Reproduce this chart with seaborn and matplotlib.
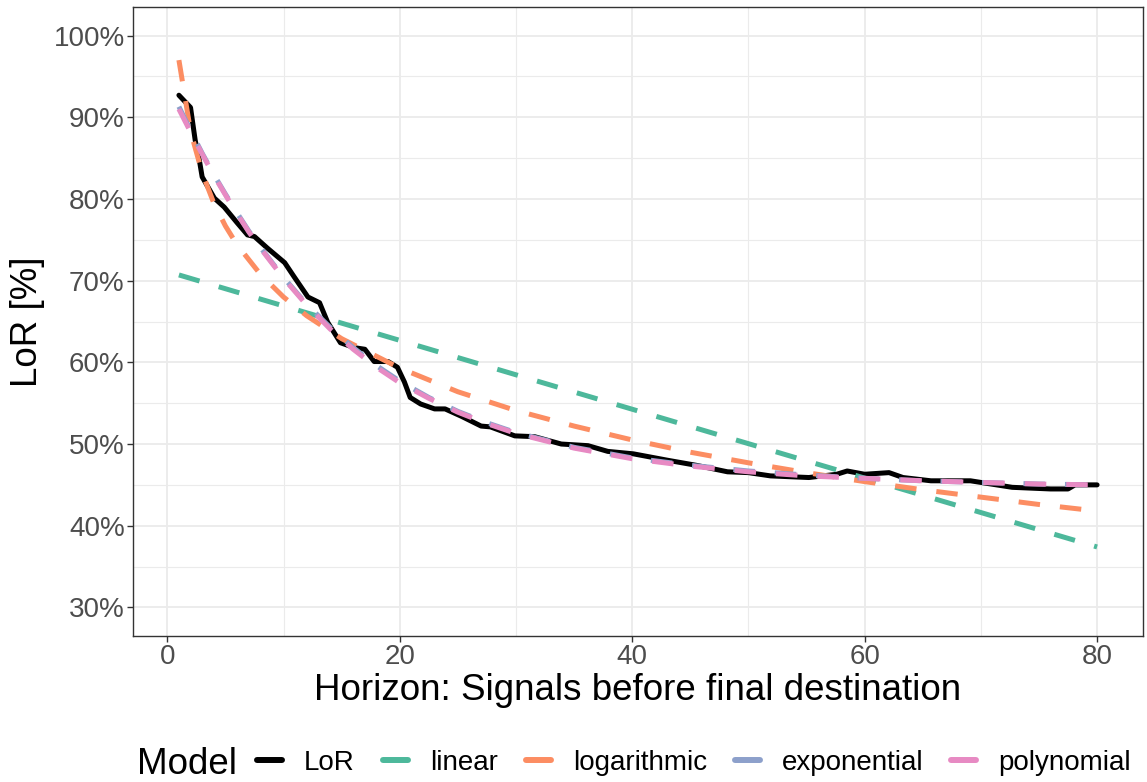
import pandas as pd
import matplotlib
matplotlib.use("Agg")
import matplotlib.pyplot as plt
from matplotlib.lines import Line2D
from matplotlib.ticker import MultipleLocator, FuncFormatter
import seaborn as sns

# Observed LoR curve (horizon, percent)
lor_x = [1.0, 2.0, 2.4, 2.8, 3.0, 4.05, 4.9, 6.0, 6.9, 7.5, 8.6, 10.1, 10.9, 12.1,
         13.1, 13.8, 14.9, 16.1, 17.0, 17.8, 19.0, 19.8, 20.4, 20.9, 21.8, 23.0,
         23.9, 25.3, 27.0, 27.8, 29.9, 31.6, 33.9, 36.2, 37.9, 40.1, 43.1, 45.5,
         48.2, 50.0, 51.9, 55.2, 57.6, 58.5, 60.0, 62.1, 63.3, 65.7, 69.1, 70.9,
         72.7, 76.0, 77.5, 78.1, 80.0]
lor_y = [92.7, 91.2, 87.2, 84.4, 82.7, 80.1, 79.0, 77.1, 75.6, 75.4, 74.0, 72.2, 70.5,
         68.0, 67.3, 64.9, 62.4, 61.8, 61.6, 60.1, 60.1, 59.4, 57.6, 55.7, 54.9,
         54.3, 54.3, 53.4, 52.2, 52.1, 51.0, 50.9, 50.0, 49.8, 49.1, 48.8, 48.0,
         47.4, 46.6, 46.5, 46.1, 45.9, 46.3, 46.7, 46.3, 46.5, 45.9, 45.5, 45.5,
         45.1, 44.7, 44.5, 44.5, 45.0, 45.0]

# Fitted models
linear_x = [1, 80]
linear_y = [70.7, 37.4]

log_x = [1, 2, 3, 4, 5, 6, 8, 10, 12, 15, 20, 25, 30, 35, 40, 45, 50, 55, 60, 65, 70, 75, 80]
log_y = [97.0, 88.3, 83.2, 79.5, 76.7, 74.4, 70.8, 68.0, 65.7, 62.9, 59.3, 56.4, 54.1,
         52.2, 50.5, 49.0, 47.7, 46.5, 45.4, 44.4, 43.5, 42.6, 41.8]

fit_x = [1, 2, 3, 4, 5, 6, 7, 8, 10, 12, 14, 16, 18, 20, 22.5, 25, 27.5, 30, 35, 40,
         45, 50, 55, 60, 65, 70, 75, 80]
exp_y = [91.3, 88.4, 85.6, 83.0, 80.6, 78.3, 76.1, 74.1, 70.4, 67.1, 64.3, 61.8, 59.6,
         57.7, 55.7, 54.0, 52.6, 51.4, 49.6, 48.3, 47.4, 46.7, 46.2, 45.8, 45.5, 45.3,
         45.1, 45.0]
poly_y = [91.0, 88.2, 85.5, 82.9, 80.5, 78.2, 76.0, 74.0, 70.3, 67.0, 64.1, 61.6, 59.4,
          57.5, 55.6, 53.9, 52.5, 51.3, 49.5, 48.2, 47.3, 46.6, 46.1, 45.8, 45.5, 45.3,
          45.1, 45.0]

models = ["LoR", "linear", "logarithmic", "exponential", "polynomial"]
colors = {"LoR": "black", "linear": "#4DB89B", "logarithmic": "#FC8D62",
          "exponential": "#8DA0CB", "polynomial": "#E78AC3"}


def main():
    parts = []
    for name, xs, ys in [("LoR", lor_x, lor_y), ("linear", linear_x, linear_y),
                         ("logarithmic", log_x, log_y), ("exponential", fit_x, exp_y),
                         ("polynomial", fit_x, poly_y)]:
        parts.append(pd.DataFrame({"horizon": xs, "lor": ys, "Model": name}))
    df = pd.concat(parts, ignore_index=True)

    sns.set_theme(style="white")
    plt.rcParams["font.family"] = ["Liberation Sans", "DejaVu Sans"]

    fig = plt.figure(figsize=(11.47, 7.82), dpi=100)
    ax = fig.add_axes([133 / 1147, 1 - 636 / 782, 1010 / 1147, 629 / 782])

    dash = (4.3, 4.0)
    sns.lineplot(
        data=df, x="horizon", y="lor", hue="Model", style="Model",
        hue_order=models, style_order=models, palette=colors,
        dashes={"LoR": "", "linear": dash, "logarithmic": dash,
                "exponential": dash, "polynomial": dash},
        estimator=None, linewidth=3.6, legend=False, ax=ax,
    )

    ax.set_xlim(-2.95, 83.95)
    ax.set_ylim(26.5, 103.5)
    ax.xaxis.set_major_locator(MultipleLocator(20))
    ax.xaxis.set_minor_locator(MultipleLocator(10))
    ax.yaxis.set_major_locator(MultipleLocator(10))
    ax.yaxis.set_minor_locator(MultipleLocator(5))
    ax.yaxis.set_major_formatter(FuncFormatter(lambda v, p: f"{v:.0f}%"))

    ax.grid(which="major", color="#EBEBEB", linewidth=1.3)
    ax.grid(which="minor", color="#EBEBEB", linewidth=0.8)
    ax.set_axisbelow(True)
    for s in ax.spines.values():
        s.set_color("#333333")
        s.set_linewidth(1.0)
    ax.tick_params(which="major", length=4, width=1, color="#333333",
                   labelsize=20, labelcolor="#4D4D4D", pad=2,
                   bottom=True, left=True)
    ax.tick_params(which="minor", length=0)

    ax.set_xlabel("Horizon: Signals before final destination", fontsize=26.5,
                  color="black", labelpad=2)
    ax.set_ylabel("LoR [%]", fontsize=26.5, color="black", labelpad=6)

    # legend along the bottom, title on the left like ggplot
    fig.text(137 / 1147, 1 - 764 / 782, "Model", fontsize=26.5, color="black",
             va="center", ha="left")
    handles = [Line2D([], [], color=colors[m], linewidth=4.3) for m in models]
    fig.legend(handles, models, loc="center left",
               bbox_to_anchor=(257 / 1147, 1 - 763 / 782), ncol=5, frameon=False,
               fontsize=20, labelcolor="black", handlelength=0.9, handletextpad=0.8,
               columnspacing=1.0, borderaxespad=0, borderpad=0)

    fig.savefig("out.png", dpi=100)
    plt.close(fig)


if __name__ == "__main__":
    main()
